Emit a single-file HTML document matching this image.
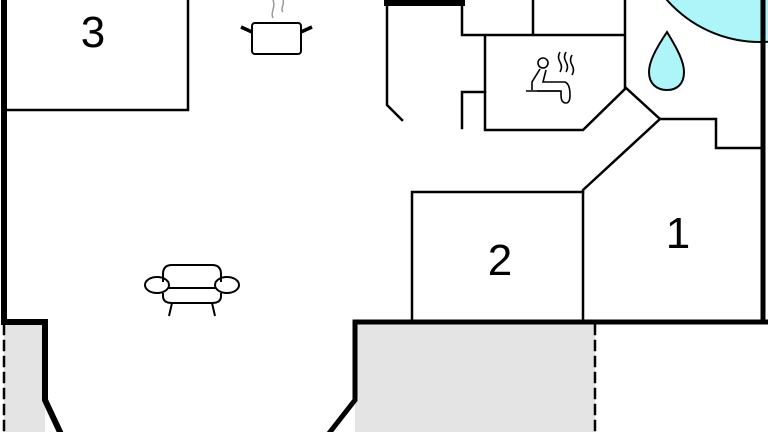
<!DOCTYPE html>
<html><head><style>html,body{margin:0;padding:0;background:#fff;}svg{display:block}</style></head>
<body>
<svg width="768" height="432" viewBox="0 0 768 432" xmlns="http://www.w3.org/2000/svg">
<rect width="768" height="432" fill="#fff"/>
<!-- gray terraces -->
<rect x="4" y="322" width="41" height="110" fill="#e4e4e4"/>
<rect x="355" y="322" width="240" height="110" fill="#e4e4e4"/>
<polygon points="45,400 60,432 45,432" fill="#fff"/>
<!-- pool -->
<circle cx="760" cy="-82" r="124" fill="#aef5fa" stroke="#000" stroke-width="2"/>
<g fill="none" stroke="#000" stroke-linecap="square">
<!-- outer walls -->
<path d="M4 0 V322 H45 V400 L60 432" stroke-width="6"/>
<path d="M330 432 L355 400 V322 H768" stroke-width="5"/>
<path d="M763 0 V322" stroke-width="5"/>
<path d="M387 3 H462" stroke-width="6"/>
<!-- room 3 -->
<path d="M188 0 V110 H5" stroke-width="2.5"/>
<!-- interior walls -->
<path d="M387 5 V105 L402 120" stroke-width="2.5"/>
<path d="M462 0 V35 H625 M533 0 V35 M625 0 V88" stroke-width="2.5"/>
<path d="M485 36 V130 H583 L626 88 L660 119 H716 V148 H763" stroke-width="2.5"/>
<path d="M462 128 V92 H485" stroke-width="2.5"/>
<path d="M660 119 L583 190 V320" stroke-width="2.5"/>
<path d="M412 320 V192 H583" stroke-width="2.5"/>
<!-- dashed -->
<path d="M4 325 V432 M595 325 V432" stroke-width="2.5" stroke-dasharray="9,7"/>
</g>
<!-- drop -->
<path d="M667 32 C655 50 649 62 649 72 C649 84 657 90 667 90 C677 90 684 84 684 72 C684 62 678 50 667 32 Z" fill="#aef5fa" stroke="#000" stroke-width="2"/>
<!-- pot -->
<g fill="none" stroke="#000" stroke-width="2">
<rect x="252" y="23" width="49" height="31" rx="3"/>
<path d="M252 32 L241 27 M301 32 L312 27" stroke-width="3.5"/>
<path d="M273 18 C270 12 276 8 273 0 M283 12 C280 8 285 4 283 0" stroke="#999" stroke-width="1.5"/>
</g>
<!-- sofa -->
<g fill="none" stroke="#000" stroke-width="2">
<path d="M163 282 V274 Q163 265 172 265 H212 Q221 265 221 274 V282"/>
<path d="M163 293 V296 Q163 303 172 303 H212 Q221 303 221 296 V293"/>
<ellipse cx="157" cy="285" rx="12" ry="8"/>
<ellipse cx="227" cy="285" rx="12" ry="8"/>
<path d="M169 288 H215"/>
<path d="M172 303 L169 316 M212 303 L215 316"/>
</g>
<!-- sauna icon -->
<g fill="none" stroke="#000" stroke-width="1.6">
<circle cx="543" cy="63" r="5"/>
<path d="M540 69 L532 82 V90 M546 70 L543 82 H565 Q570 84 570 95 Q570 103 566 103 Q561 103 561 95 V91 H537"/>
<path d="M526 91 H560"/>
<path d="M560 52 q-3 5 0 10 q3 5 0 10 M566 52 q-3 5 0 10 q3 5 0 10 M572 55 q-3 5 0 10 q3 5 0 10"/>
</g>
<!-- labels -->
<g font-family="Liberation Sans, sans-serif" font-size="44" text-anchor="middle" fill="#000">
<text x="93" y="47">3</text>
<text x="500" y="275">2</text>
<text x="678" y="248">1</text>
</g>
</svg>
</body></html>
